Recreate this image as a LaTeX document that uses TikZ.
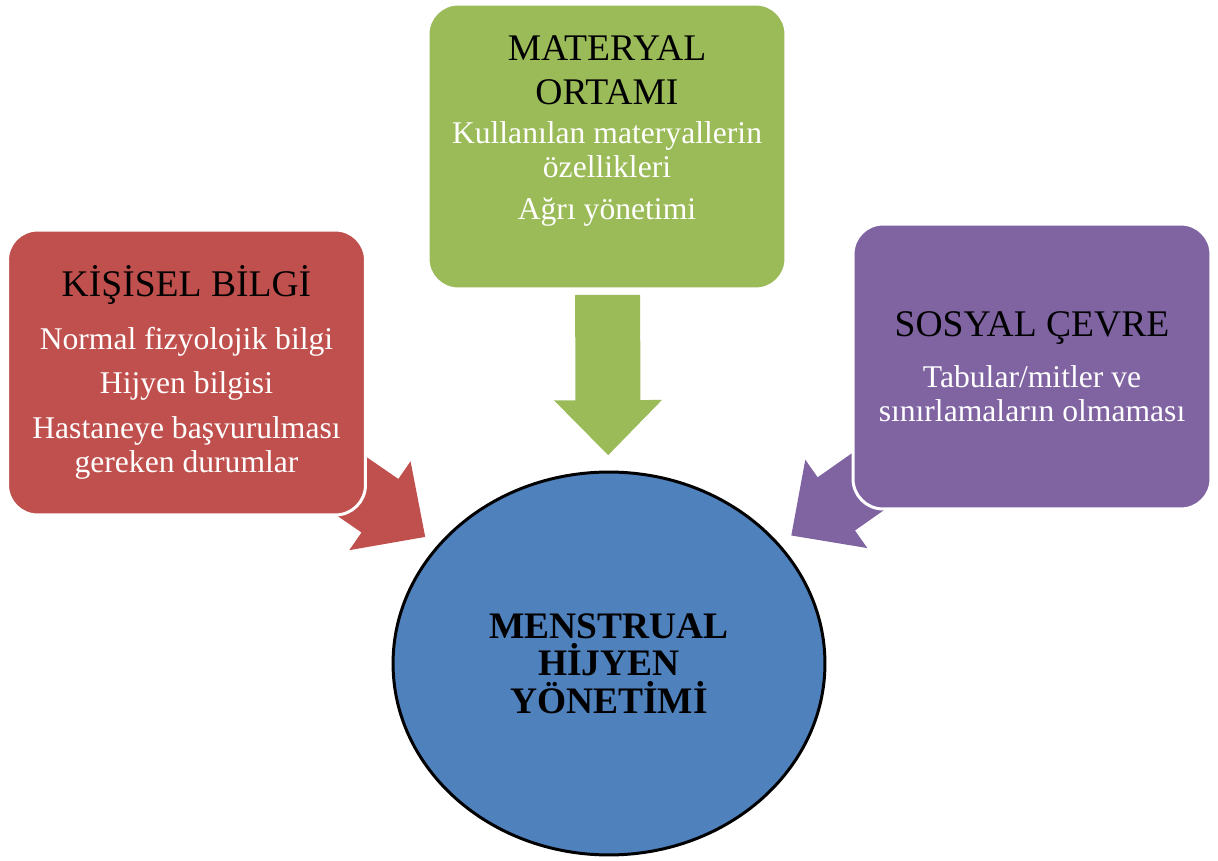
\documentclass[tikz,border=0pt]{standalone}
\usepackage{fontspec}
\setmainfont{Liberation Serif}
\usetikzlibrary{positioning,calc,shapes.geometric,backgrounds}
\definecolor{kred}{HTML}{C0504D}
\definecolor{mgreen}{HTML}{9BBB59}
\definecolor{spurple}{HTML}{8064A2}
\definecolor{hblue}{HTML}{4F81BD}
\newcommand{\boxhead}[1]{{\fontsize{21.4}{25}\selectfont\color{black}#1}}
\newcommand{\blockarrow}[3]{% tail, tip, colour
  \fill[#3] ($(#1)!0.65cm!90:(#2)$) -- ($(#2)!1.1cm!(#1)!0.65cm!-90:(#1)$)
    -- ($(#2)!1.1cm!(#1)!1.08cm!-90:(#1)$) -- (#2)
    -- ($(#2)!1.1cm!(#1)!1.08cm!90:(#1)$) -- ($(#2)!1.1cm!(#1)!0.65cm!90:(#1)$)
    -- ($(#1)!0.65cm!-90:(#2)$) -- cycle;}

\begin{document}
\begin{tikzpicture}[x=0.02cm, y=-0.02cm,
    box/.style={draw=white, line width=1.7pt, rounded corners=0.6cm, minimum width=7.16cm,
      minimum height=5.7cm, align=center, text=white, font=\fontsize{18}{19.3}\selectfont},
    hub/.style={ellipse, draw=black, line width=1.7pt, fill=hblue, minimum width=8.64cm,
      minimum height=7.66cm, align=center, font=\fontsize{21.3}{21.3}\selectfont\bfseries}]
  \useasboundingbox (0,0) rectangle (1218,861);
  \node[hub] (mhy) at (609,663.5) {MENSTRUAL\\HİJYEN\\YÖNETİMİ};
  \node[box, fill=kred] (kisisel) at (186.5,372.5)
    {\boxhead{KİŞİSEL BİLGİ}\\[10.7pt] Normal fizyolojik bilgi\\[6.2pt] Hijyen bilgisi\\[6.2pt]
     Hastaneye başvurulması\\ gereken durumlar};
  \node[box, fill=mgreen] (materyal) at (607,146.5)
    {\boxhead{MATERYAL}\\[5.7pt]\boxhead{ORTAMI}\\[2.8pt] Kullanılan materyallerin\\ özellikleri\\[4.5pt]
     Ağrı yönetimi\\[2.3pt]\mbox{}};
  \node[box, fill=spurple] (sosyal) at (1032,366.5)
    {\boxhead{SOSYAL ÇEVRE}\\[9.6pt] Tabular/mitler ve\\ sınırlamaların olmaması};
  % arrows into the hub
  \coordinate (ktail) at ($(mhy)!0.75!(kisisel)$);
  \coordinate (ktip) at ($(mhy)!0.435!(kisisel)$);
  \coordinate (mtail) at ($(mhy)!0.713!(materyal)$);
  \coordinate (mtip) at ($(mhy)!0.403!(materyal)$);
  \coordinate (stail) at ($(mhy)!0.74!(sosyal)$);
  \coordinate (stip) at ($(mhy)!0.431!(sosyal)$);
  \begin{scope}[on background layer]
    \blockarrow{ktail}{ktip}{kred}
    \blockarrow{mtail}{mtip}{mgreen}
    \blockarrow{stail}{stip}{spurple}
  \end{scope}
\end{tikzpicture}
\end{document}
